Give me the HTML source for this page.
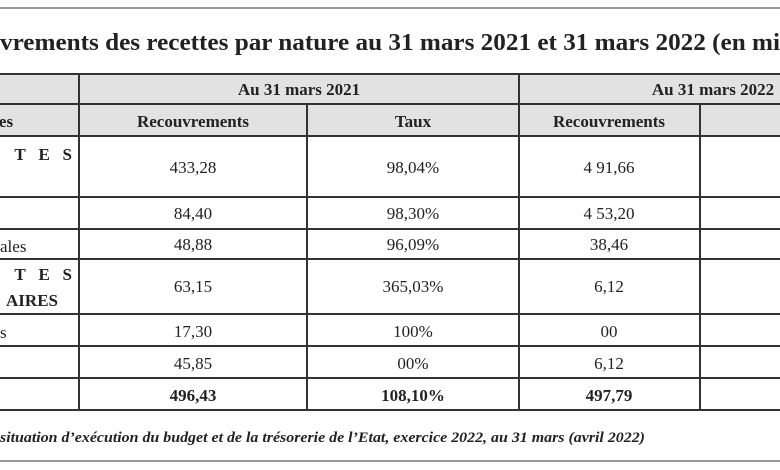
<!DOCTYPE html>
<html><head><meta charset="utf-8"><style>
html,body{margin:0;padding:0;background:#fff;}
svg{display:block;}
text{font-family:"Liberation Serif",serif;fill:#222;}
.b{font-weight:bold;}
</style></head><body>
<svg width="780" height="470" viewBox="0 0 780 470">
<line x1="0" y1="8" x2="780" y2="8" stroke="#777" stroke-width="1.5"/>
<text x="0" y="50" class="b" font-size="24" textLength="780" lengthAdjust="spacingAndGlyphs">vrements des recettes par nature au 31 mars 2021 et 31 mars 2022 (en mi</text>
<rect x="0" y="74" width="780" height="62" fill="#e2e2e2"/>
<g stroke="#333" stroke-width="2">
<line x1="0" y1="74" x2="780" y2="74"/><line x1="0" y1="104" x2="780" y2="104"/>
<line x1="0" y1="136" x2="780" y2="136"/><line x1="0" y1="197" x2="780" y2="197"/>
<line x1="0" y1="229" x2="780" y2="229"/><line x1="0" y1="259" x2="780" y2="259"/>
<line x1="0" y1="314" x2="780" y2="314"/><line x1="0" y1="346" x2="780" y2="346"/>
<line x1="0" y1="378" x2="780" y2="378"/><line x1="0" y1="410" x2="780" y2="410"/>
<line x1="79" y1="74" x2="79" y2="410"/><line x1="519" y1="74" x2="519" y2="410"/>
<line x1="307" y1="104" x2="307" y2="410"/><line x1="700" y1="104" x2="700" y2="410"/>
</g>
<g class="b" font-size="17" text-anchor="middle">
<text x="299" y="95">Au 31 mars 2021</text>
<text x="713" y="95">Au 31 mars 2022</text>
<text x="193" y="127">Recouvrements</text>
<text x="413" y="127">Taux</text>
<text x="609" y="127">Recouvrements</text>
<text x="6" y="127">es</text>
</g>
<g font-size="17">
<text x="72" y="160" class="b" text-anchor="end">T&#160;&#160;&#160;E&#160;&#160;&#160;S</text>
<text x="0" y="252">ales</text>
<text x="72" y="280" class="b" text-anchor="end">T&#160;&#160;&#160;E&#160;&#160;&#160;S</text>
<text x="58" y="306" class="b" text-anchor="end">AIRES</text>
<text x="0" y="338">s</text>
</g>
<g font-size="17" text-anchor="middle">
<text x="193" y="173">433,28</text><text x="413" y="173">98,04%</text><text x="609" y="173">4 91,66</text>
<text x="193" y="219">84,40</text><text x="413" y="219">98,30%</text><text x="609" y="219">4 53,20</text>
<text x="193" y="250">48,88</text><text x="413" y="250">96,09%</text><text x="609" y="250">38,46</text>
<text x="193" y="292">63,15</text><text x="413" y="292">365,03%</text><text x="609" y="292">6,12</text>
<text x="193" y="337">17,30</text><text x="413" y="337">100%</text><text x="609" y="337">00</text>
<text x="193" y="369">45,85</text><text x="413" y="369">00%</text><text x="609" y="369">6,12</text>
<g class="b">
<text x="193" y="401">496,43</text><text x="413" y="401">108,10%</text><text x="609" y="401">497,79</text>
</g>
</g>
<text x="0" y="442" font-size="14.5" font-style="italic" font-weight="bold" textLength="645" lengthAdjust="spacingAndGlyphs">situation d’exécution du budget et de la trésorerie de l’Etat, exercice 2022, au 31 mars (avril 2022)</text>
<line x1="0" y1="461" x2="780" y2="461" stroke="#777" stroke-width="1.5"/>
</svg>
</body></html>
